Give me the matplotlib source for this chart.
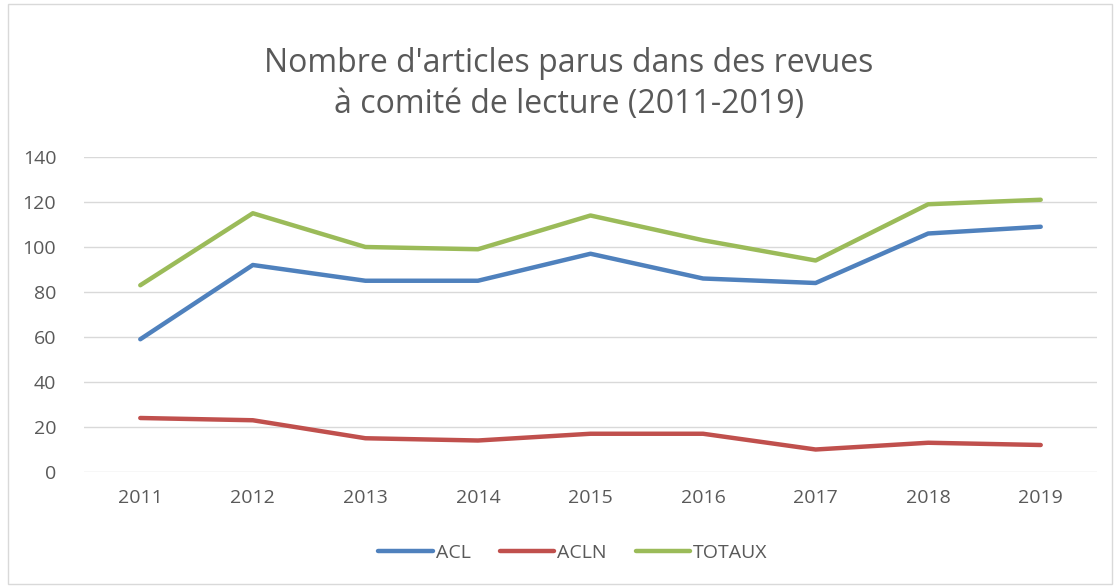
import matplotlib.pyplot as plt
import matplotlib.patches as patches

years = ['2011', '2012', '2013', '2014', '2015', '2016', '2017', '2018', '2019']
acl = [59, 92, 85, 85, 97, 86, 84, 106, 109]
acln = [24, 23, 15, 14, 17, 17, 10, 13, 12]
totaux = [83, 115, 100, 99, 114, 103, 94, 119, 121]
series_names = ['ACL', 'ACLN', 'TOTAUX']

plt.rcParams['font.family'] = ['Open Sans', 'DejaVu Sans']
text_color = '#595959'

fig = plt.figure(figsize=(11.17, 5.87), dpi=100)
ax = fig.add_axes([84 / 1117, 1 - 472 / 587, (1097 - 84) / 1117, (472 - 157) / 587])

# cadre du graphique
fig.patches.append(patches.Rectangle((8 / 1117, 3 / 587), 1104 / 1117, 580 / 587, transform=fig.transFigure,
                                     fill=False, edgecolor='#D9D9D9', lw=1))

x = range(len(years))
colors = ['#4F81BD', '#C0504D', '#9BBB59']
for vals, name, c in zip([acl, acln, totaux], series_names, colors):
    ax.plot(x, vals, color=c, lw=3.2, solid_capstyle='round', solid_joinstyle='round', label=name)

ax.set_xlim(-0.5, len(years) - 0.5)
ax.set_ylim(0, 140)
ax.set_yticks(range(0, 141, 20))
ax.set_xticks(list(x))
ax.set_xticklabels(years)
ax.grid(axis='y', color='#D9D9D9', lw=1)
ax.set_axisbelow(True)
for s in ax.spines.values():
    s.set_visible(False)
ax.tick_params(length=0, labelsize=14, colors=text_color, pad=12)
ax.tick_params(axis='y', pad=20)

fig.text(569 / 1117, 1 - 84 / 587, "Nombre d'articles parus dans des revues\nà comité de lecture (2011-2019)",
         ha='center', va='center', fontsize=23, color=text_color, linespacing=1.35)

fig.legend(loc='center', bbox_to_anchor=(573 / 1117, 1 - 553 / 587), ncol=3, frameon=False,
           fontsize=14, labelcolor=text_color, handlelength=2.8, handletextpad=0.15, columnspacing=1.5)

fig.savefig('out.png', dpi=100)
